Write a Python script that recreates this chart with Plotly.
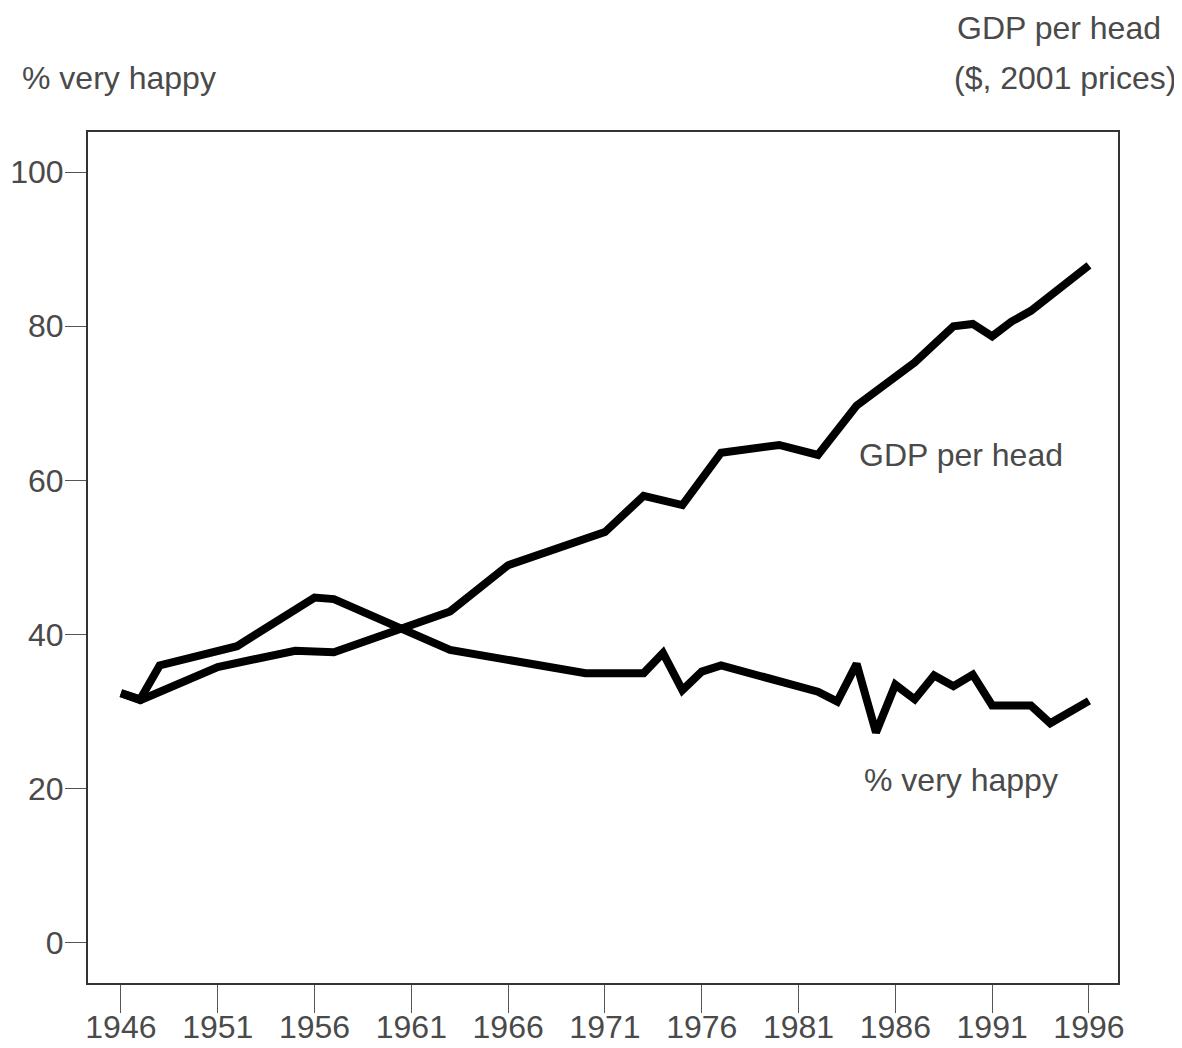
import plotly.graph_objects as go

# % very happy
happy_years = [1946, 1947, 1948, 1952, 1956, 1957, 1963, 1970, 1973, 1974, 1975, 1976, 1977,
               1982, 1983, 1984, 1985, 1986, 1987, 1988, 1989, 1990, 1991, 1993, 1994, 1996]
happy_vals = [32.4, 31.6, 36.0, 38.5, 44.8, 44.6, 38.0, 35.0, 35.0, 37.6, 32.8, 35.2, 36.0,
              32.6, 31.3, 36.2, 27.3, 33.5, 31.6, 34.7, 33.3, 34.8, 30.8, 30.8, 28.5, 31.4]

# GDP per head (index on same scale)
gdp_years = [1946, 1947, 1951, 1955, 1957, 1962, 1963, 1966, 1971, 1973, 1975, 1977, 1980,
             1982, 1984, 1987, 1989, 1990, 1991, 1992, 1993, 1996]
gdp_vals = [32.4, 31.5, 35.8, 37.9, 37.7, 42.3, 43.0, 49.0, 53.3, 58.0, 56.8, 63.6, 64.6,
            63.3, 69.7, 75.3, 80.0, 80.3, 78.7, 80.6, 82.0, 87.9]

x_ticks = [1946, 1951, 1956, 1961, 1966, 1971, 1976, 1981, 1986, 1991, 1996]
y_ticks = [0, 20, 40, 60, 80, 100]

FONT = "Liberation Sans, Arial, sans-serif"
TXT = "#4a4a4a"
FS = 32

fig = go.Figure()
fig.add_trace(go.Scatter(x=gdp_years, y=gdp_vals, mode="lines",
                         line=dict(color="black", width=8), name="GDP per head"))
fig.add_trace(go.Scatter(x=happy_years, y=happy_vals, mode="lines",
                         line=dict(color="black", width=8), name="% very happy"))

fig.update_layout(
    width=1174, height=1040,
    margin=dict(l=80, r=64, t=124, b=65, autoexpand=False),
    paper_bgcolor="white", plot_bgcolor="white",
    showlegend=False,
    font=dict(family=FONT, size=FS, color=TXT),
    xaxis=dict(range=[1944.3, 1997.5], tickvals=x_ticks, ticktext=[str(v) for v in x_ticks],
               showgrid=False, zeroline=False, showline=True, mirror=True, automargin=False,
               linecolor="#333", linewidth=2, ticks="outside", ticklen=28, ticklabelstandoff=-13,
               tickcolor="#555", tickwidth=1, tickfont=dict(size=FS, color=TXT, family=FONT)),
    yaxis=dict(range=[-5.2, 105.2], tickvals=y_ticks, ticktext=[str(v) for v in y_ticks],
               showgrid=False, zeroline=False, showline=True, mirror=True, automargin=False,
               linecolor="#333", linewidth=2, ticks="outside", ticklen=21, ticklabelstandoff=-5,
               tickcolor="#555", tickwidth=1, tickfont=dict(size=FS, color=TXT, family=FONT)),
)

fig.add_annotation(text="% very happy", xref="paper", yref="paper", x=0, xshift=-68,
                   y=1.0, yshift=54, xanchor="left", yanchor="middle", showarrow=False,
                   font=dict(size=FS, color=TXT, family=FONT))
fig.add_annotation(text="GDP per head", xref="paper", yref="paper",
                   x=1.0, xshift=45, y=1.0, yshift=104, xanchor="right", yanchor="middle",
                   showarrow=False, font=dict(size=FS, color=TXT, family=FONT))
fig.add_annotation(text="($, 2001 prices)", xref="paper", yref="paper",
                   x=1.0, xshift=60, y=1.0, yshift=54, xanchor="right", yanchor="middle",
                   showarrow=False, font=dict(size=FS, color=TXT, family=FONT))
fig.add_annotation(text="GDP per head", x=1984.0, y=63.3, xanchor="left", yanchor="middle",
                   showarrow=False, font=dict(size=FS, color=TXT, family=FONT))
fig.add_annotation(text="% very happy", x=1984.3, y=21.1, xanchor="left", yanchor="middle",
                   showarrow=False, font=dict(size=FS, color=TXT, family=FONT))

fig.write_html("out.html")
